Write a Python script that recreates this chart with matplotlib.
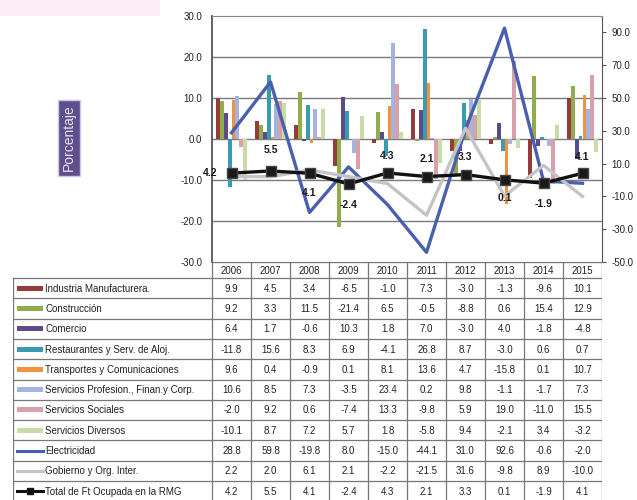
import matplotlib
matplotlib.use("Agg")
import matplotlib.pyplot as plt
from matplotlib.ticker import FormatStrFormatter
from matplotlib.patches import Rectangle

plt.rcParams['font.family'] = ['Liberation Sans', 'DejaVu Sans']

years = ['2006', '2007', '2008', '2009', '2010', '2011', '2012', '2013', '2014', '2015']

industria = [9.9, 4.5, 3.4, -6.5, -1.0, 7.3, -3.0, -1.3, -9.6, 10.1]
construccion = [9.2, 3.3, 11.5, -21.4, 6.5, -0.5, -8.8, 0.6, 15.4, 12.9]
comercio = [6.4, 1.7, -0.6, 10.3, 1.8, 7.0, -3.0, 4.0, -1.8, -4.8]
restaurantes = [-11.8, 15.6, 8.3, 6.9, -4.1, 26.8, 8.7, -3.0, 0.6, 0.7]
transportes = [9.6, 0.4, -0.9, 0.1, 8.1, 13.6, 4.7, -15.8, 0.1, 10.7]
serv_prof = [10.6, 8.5, 7.3, -3.5, 23.4, 0.2, 9.8, -1.1, -1.7, 7.3]
serv_soc = [-2.0, 9.2, 0.6, -7.4, 13.3, -9.8, 5.9, 19.0, -11.0, 15.5]
serv_div = [-10.1, 8.7, 7.2, 5.7, 1.8, -5.8, 9.4, -2.1, 3.4, -3.2]
electricidad = [28.8, 59.8, -19.8, 8.0, -15.0, -44.1, 31.0, 92.6, -0.6, -2.0]
gobierno = [2.2, 2.0, 6.1, 2.1, -2.2, -21.5, 31.6, -9.8, 8.9, -10.0]
total = [4.2, 5.5, 4.1, -2.4, 4.3, 2.1, 3.3, 0.1, -1.9, 4.1]

bar_names = ['Industria Manufacturera.', 'Construcción', 'Comercio',
             'Restaurantes y Serv. de Aloj.', 'Transportes y Comunicaciones',
             'Servicios Profesion., Finan.y Corp.', 'Servicios Sociales',
             'Servicios Diversos']
bar_data = [industria, construccion, comercio, restaurantes, transportes,
            serv_prof, serv_soc, serv_div]
bar_colors = ['#973a3a', '#8fae4b', '#5c4a8a', '#3a9bb0', '#f0923e',
              '#a4b4dc', '#d8a0a8', '#c8dca8']
line_names = ['Electricidad', 'Gobierno y Org. Inter.', 'Total de Ft Ocupada en la RMG']
line_data = [electricidad, gobierno, total]
line_colors = ['#4a5fad', '#c4c4c8', '#111111']

W, H = 637, 500
fig = plt.figure(figsize=(W / 100, H / 100), dpi=100)
fig.patch.set_facecolor('white')

# faint pink band top-left
fig.patches.append(Rectangle((0, 1 - 16 / H), 160 / W, 16 / H, transform=fig.transFigure,
                             facecolor='#fcedf6', edgecolor='none', zorder=0))

L, R, T, B = 212, 602, 16, 262
ax = fig.add_axes([L / W, 1 - B / H, (R - L) / W, (B - T) / H])
ax.set_xlim(-0.5, len(years) - 0.5)
ax.set_ylim(-30, 30)
ax.set_yticks([-30, -20, -10, 0, 10, 20, 30])
ax.yaxis.set_major_formatter(FormatStrFormatter('%.1f'))
ax.set_xticks([])
ax.tick_params(axis='y', length=0, pad=7, labelsize=7, labelcolor='#222222')
for y in [-20, -10, 0, 10, 20]:
    ax.axhline(y, color='#7a7a7a', lw=1.0, zorder=1)
for s in ['top', 'bottom']:
    ax.spines[s].set_color('#888888')
ax.spines['left'].set_color('#555555')
ax.spines['right'].set_color('#555555')
ax.spines['left'].set_linewidth(1.3)

n = len(bar_data)
w = 0.1
for i, (vals, c) in enumerate(zip(bar_data, bar_colors)):
    xs = [k + (i - (n - 1) / 2) * w for k in range(len(years))]
    ax.bar(xs, vals, width=w, color=c, edgecolor='none', zorder=2)

ax2 = ax.twinx()
ax2.set_ylim(-50, 100)
ax2.set_yticks([-50, -30, -10, 10, 30, 50, 70, 90])
ax2.yaxis.set_major_formatter(FormatStrFormatter('%.1f'))
ax2.tick_params(axis='y', length=3, pad=4, labelsize=7, labelcolor='#222222', color='#555555')
for s in ax2.spines.values():
    s.set_visible(False)

xs = list(range(len(years)))
ax2.plot(xs, electricidad, color=line_colors[0], lw=2.4, zorder=3)
ax2.plot(xs, gobierno, color=line_colors[1], lw=2.4, zorder=3)
ax2.plot(xs, total, color=line_colors[2], lw=2.4, marker='s', ms=6.5,
         markerfacecolor='#1a1a1a', markeredgecolor='#444444', zorder=4)

offsets = [(-10, 0), (0, 15), (0, -14), (0, -15), (0, 12), (0, 13), (0, 13),
           (0, -13), (0, -15), (0, 12)]
for k, (v, off) in enumerate(zip(total, offsets)):
    ax2.annotate(f'{v:.1f}', (k, v), xytext=off, textcoords='offset points',
                 ha='center' if off[0] == 0 else 'right', va='center',
                 fontsize=7.5, color='#1a1a1a', fontweight='semibold', zorder=5)

# ---- data table ----
TL = 13
tab = fig.add_axes([TL / W, 0, (R - TL) / W, 1 - B / H])
px = (len(years)) / (R - L)          # data units per pixel
x_left = -0.5 - (L - TL) * px
tab.set_xlim(x_left, len(years) - 0.5)
tab.set_ylim(H, B)
tab.axis('off')

hdr_top, hdr_bot = B, 278
row_h = 20.3
nrows = n + len(line_names)
grid_c = '#777777'
for k, yr in enumerate(years):
    tab.text(k, (hdr_top + hdr_bot) / 2 + 1, yr, ha='center', va='center', fontsize=7, color='#222222')
tab.plot([-0.5, len(years) - 0.5], [hdr_top, hdr_top], color=grid_c, lw=0.9)
for k in range(len(years) + 1):
    tab.plot([k - 0.5, k - 0.5], [hdr_top, H + 5], color=grid_c, lw=0.9)
tab.plot([x_left, x_left], [hdr_bot, H + 5], color=grid_c, lw=0.9)
for r in range(nrows + 1):
    y = hdr_bot + r * row_h
    tab.plot([x_left, len(years) - 0.5], [y, y], color=grid_c, lw=0.9)

all_names = bar_names + line_names
all_data = bar_data + line_data
for r, (name, vals) in enumerate(zip(all_names, all_data)):
    yc = hdr_bot + (r + 0.5) * row_h
    sx0, sx1 = x_left + 4 * px, x_left + 30 * px
    if r < n:
        tab.add_patch(Rectangle((sx0, yc - 2.5), sx1 - sx0, 5, facecolor=bar_colors[r],
                                edgecolor='none'))
    else:
        j = r - n
        tab.plot([sx0, sx1], [yc, yc], color=line_colors[j], lw=2.2)
        if j == 2:
            tab.plot([(sx0 + sx1) / 2], [yc], marker='s', ms=4.5, color='#111111')
    tab.text(x_left + 32 * px, yc + 0.5, name, ha='left', va='center', fontsize=7,
             color='#222222')
    for k, v in enumerate(vals):
        tab.text(k, yc + 0.5, f'{v:.1f}', ha='center', va='center', fontsize=7,
                 color='#222222')

# Porcentaje label
fig.text(69 / W, 1 - 138 / H, 'Porcentaje', rotation=90, ha='center', va='center',
         fontsize=10, color='#e8e4f4',
         bbox=dict(boxstyle='square,pad=0.3', facecolor='#5e4f8c', edgecolor='#cfc6e6', lw=1))

fig.savefig('out.png', dpi=100)
